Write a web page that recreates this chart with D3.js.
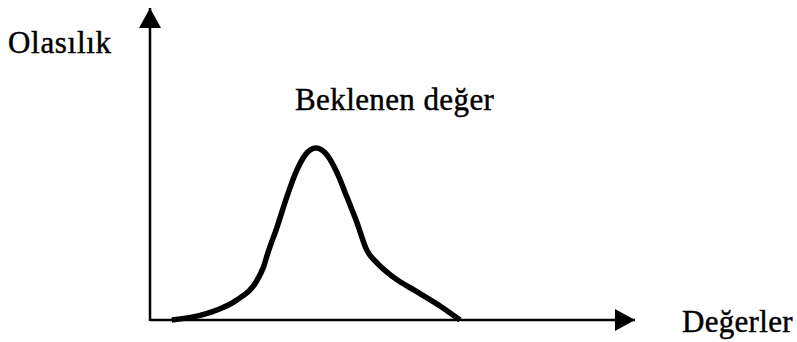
<!DOCTYPE html>
<html>
<head>
<meta charset="utf-8">
<script src="https://cdn.jsdelivr.net/npm/d3@7"></script>
<style>
  html, body { margin: 0; padding: 0; background: #fff; }
  svg { display: block; }
  text { font-family: "Liberation Serif", "Times New Roman", serif; fill: #000; stroke: #000; stroke-width: 0.45px; }
</style>
</head>
<body>
<svg id="chart" width="797" height="342"></svg>
<script>
// Distribution curve: value positions and their probabilities
const values = [4.5, 8.9, 13.8, 17.9, 22.1, 23.4, 24.3, 26.2, 28.2, 30.3, 32.0, 34.2, 36.5, 38.6, 40.6, 42.7, 44.7, 46.8, 50.1, 55.1, 59.8, 63.9];
const probabilities = [0, 1.0, 3.2, 6.4, 12.8, 17.0, 21.5, 29.8, 39.4, 48.1, 52.9, 55.1, 52.9, 47.1, 39.4, 31.1, 22.4, 18.3, 13.8, 9.0, 4.5, 0];

const yAxisLabel = "Olasılık";
const xAxisLabel = "Değerler";
const peakLabel = "Beklenen değer";

const svg = d3.select("#chart");

const x = d3.scaleLinear().domain([0, 100]).range([150, 635]);
const y = d3.scaleLinear().domain([0, 100]).range([320, 8]);

// Arrowheads at the ends of both axes
const defs = svg.append("defs");
defs.append("marker")
  .attr("id", "arrow")
  .attr("viewBox", "0 0 20 22")
  .attr("refX", 20).attr("refY", 11)
  .attr("markerWidth", 20).attr("markerHeight", 22)
  .attr("markerUnits", "userSpaceOnUse")
  .attr("orient", "auto")
  .append("path")
  .attr("d", "M0,0 L20,11 L0,22 Z")
  .attr("fill", "#000");

// Axis lines ending in arrows
svg.append("line")
  .attr("x1", x(0)).attr("y1", y(0))
  .attr("x2", x(100)).attr("y2", y(0))
  .attr("stroke", "#000").attr("stroke-width", 2.5)
  .attr("marker-end", "url(#arrow)");

svg.append("line")
  .attr("x1", x(0)).attr("y1", y(0) + 1)
  .attr("x2", x(0)).attr("y2", y(100))
  .attr("stroke", "#000").attr("stroke-width", 2.5)
  .attr("marker-end", "url(#arrow)");

// Probability curve
const line = d3.line()
  .x((d, i) => x(values[i]))
  .y(d => y(d))
  .curve(d3.curveMonotoneX);

svg.append("path")
  .datum(probabilities)
  .attr("d", line)
  .attr("fill", "none")
  .attr("stroke", "#000")
  .attr("stroke-width", 5.5)
  .attr("stroke-linejoin", "round")
  .attr("stroke-linecap", "butt");

// Labels
svg.append("text")
  .attr("x", 8).attr("y", 53)
  .attr("font-size", 31)
  .attr("letter-spacing", 0.7)
  .text(yAxisLabel);

svg.append("text")
  .attr("x", 295).attr("y", 110)
  .attr("font-size", 31)
  .attr("letter-spacing", 0.4)
  .text(peakLabel);

svg.append("text")
  .attr("x", 682).attr("y", 332)
  .attr("font-size", 31)
  .attr("letter-spacing", 0.3)
  .text(xAxisLabel);
</script>
</body>
</html>
